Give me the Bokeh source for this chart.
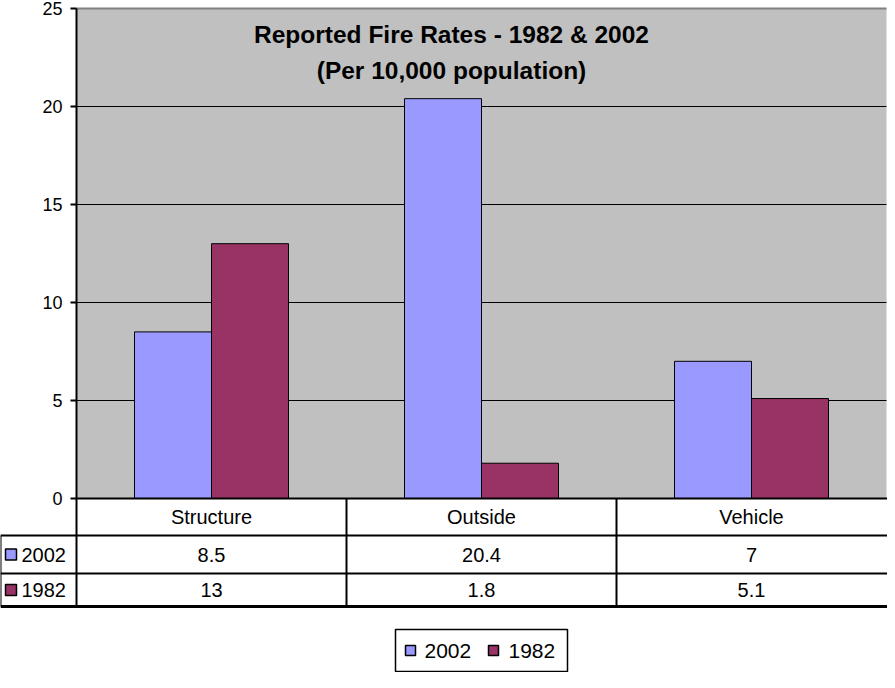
from bokeh.plotting import figure
from bokeh.models import Range1d
from bokeh.core.properties import value
from bokeh.embed import file_html
from bokeh.resources import INLINE

# ---- data ----
categories = ["Structure", "Outside", "Vehicle"]
series_names = ["2002", "1982"]
rates_2002 = [8.5, 20.4, 7]
rates_1982 = [13, 1.8, 5.1]
y_ticks = [0, 5, 10, 15, 20, 25]
title_lines = ["Reported Fire Rates - 1982 & 2002", "(Per 10,000 population)"]
colors = ["#9999FF", "#993366"]

FONT = "Liberation Sans"
W, H = 887, 672
OX, OY = 8, 8                    # page offset of the figure
PL, PR, PT, PB = 84, 894, 16, 506  # plot area, page pixels
ncat = len(categories)
ymax = y_ticks[-1]
cw = (PR - PL) / ncat
yu = (PB - PT) / ymax


def fx(px):
    return (px - PL) / cw


def fy(py):
    return (PB - py) / yu


p = figure(width=W, height=H, output_backend="svg", toolbar_location=None,
           x_range=Range1d(fx(OX), fx(OX + W)), y_range=Range1d(fy(OY + H), fy(OY)),
           min_border=0, x_axis_location=None, y_axis_location=None)
p.grid.visible = False
p.outline_line_color = None
p.background_fill_color = "white"
p.border_fill_color = "white"

# plot area background
p.quad(left=[0], right=[ncat], bottom=[0], top=[ymax], fill_color="#C0C0C0", line_color=None)

# gridlines
grid_vals = [t for t in y_ticks if 0 < t < ymax]
p.segment(x0=[0] * len(grid_vals), x1=[ncat] * len(grid_vals), y0=grid_vals, y1=grid_vals,
          line_color="black", line_width=1)
p.segment(x0=[0], x1=[ncat], y0=[ymax], y1=[ymax], line_color="#808080", line_width=2)

# bars
bw = 77 / cw
off = bw / 2
x2002 = [i + 0.5 - off for i in range(ncat)]
x1982 = [i + 0.5 + off for i in range(ncat)]
p.vbar(x=x2002, top=rates_2002, width=bw, bottom=0, fill_color=colors[0], line_color="black", line_width=1)
p.vbar(x=x1982, top=rates_1982, width=bw, bottom=0, fill_color=colors[1], line_color="black", line_width=1)

# y axis
p.segment(x0=[0], x1=[0], y0=[0], y1=[ymax], line_color="black", line_width=2)
tick_len = 6 / cw
p.segment(x0=[-tick_len] * len(y_ticks), x1=[0] * len(y_ticks), y0=y_ticks, y1=y_ticks,
          line_color="black", line_width=2)
p.text(x=[fx(70)] * len(y_ticks), y=y_ticks, text=[str(t) for t in y_ticks],
       text_font=value(FONT), text_font_size="18px", text_align="right", text_baseline="middle",
       text_color="black")

# title
p.text(x=[fx(459)] * 2, y=[fy(42), fy(78)], text=title_lines, text_font=value(FONT),
       text_font_size="24.5px", text_font_style="bold", text_align="center", text_baseline="middle",
       text_color="black")

# data table
row_hdr_bot, row1_bot, row2_bot = 543, 581, 614
xr = fx(OX + W)
p.segment(x0=[0], x1=[xr], y0=[0], y1=[0], line_color="black", line_width=2)
p.segment(x0=[fx(8)] * 2, x1=[xr] * 2, y0=[fy(row_hdr_bot), fy(row1_bot)], y1=[fy(row_hdr_bot), fy(row1_bot)],
          line_color="black", line_width=2)
p.segment(x0=[fx(8)], x1=[xr], y0=[fy(row2_bot)], y1=[fy(row2_bot)], line_color="black", line_width=3)
vx = list(range(ncat))
p.segment(x0=vx, x1=vx, y0=[0] * ncat, y1=[fy(row2_bot)] * ncat, line_color="black", line_width=2)
p.segment(x0=[fx(8)], x1=[fx(8)], y0=[fy(row_hdr_bot)], y1=[fy(row2_bot)], line_color="black", line_width=2)

cx = [i + 0.5 for i in range(ncat)]
p.text(x=cx, y=[fy((PB + row_hdr_bot) / 2)] * ncat, text=categories, text_font=value(FONT),
       text_font_size="20px", text_align="center", text_baseline="middle", text_color="black")
row_y = [fy((row_hdr_bot + row1_bot) / 2), fy((row1_bot + row2_bot) / 2)]
for vals, ry in zip([rates_2002, rates_1982], row_y):
    p.text(x=cx, y=[ry] * ncat, text=[f"{v:g}" for v in vals], text_font=value(FONT),
           text_font_size="20px", text_align="center", text_baseline="middle", text_color="black")
p.rect(x=[fx(18.5)] * 2, y=row_y, width=11, height=11, width_units="screen", height_units="screen",
       fill_color=colors, line_color="black", line_width=1.5)
p.text(x=[fx(29)] * 2, y=row_y, text=series_names, text_font=value(FONT), text_font_size="20px",
       text_align="left", text_baseline="middle", text_color="black")

# legend box
p.quad(left=[fx(403)], right=[fx(575)], top=[fy(637)], bottom=[fy(679)], fill_color="white",
       line_color="black", line_width=1.5)
ly = fy(658)
p.rect(x=[fx(418), fx(501)], y=[ly, ly], width=10, height=10, width_units="screen", height_units="screen",
       fill_color=colors, line_color="black", line_width=1.5)
p.text(x=[fx(432), fx(516)], y=[ly, ly], text=series_names, text_font=value(FONT), text_font_size="21px",
       text_align="left", text_baseline="middle", text_color="black")

open("out.html", "w").write(file_html(p, INLINE))
